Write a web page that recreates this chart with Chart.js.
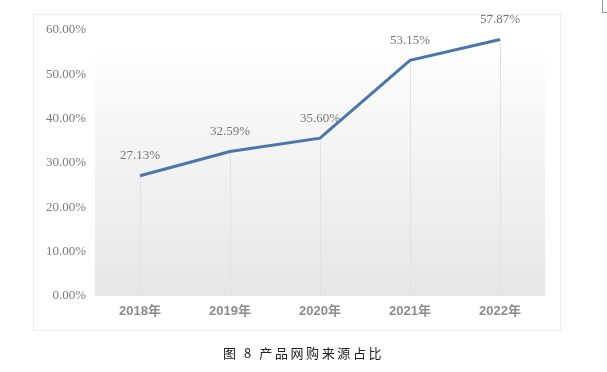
<!DOCTYPE html>
<html>
<head>
<meta charset="utf-8">
<script src="https://cdn.jsdelivr.net/npm/chart.js@4/dist/chart.umd.min.js"></script>
<style>
  body{ margin:0; background:#fff; }
  #wrap{ position:relative; width:607px; height:372px; }
  #frame{ position:absolute; left:33px; top:14px; width:526px; height:315px; border:1px solid #ececec; }
  #chart{ position:absolute; left:0; top:0; }
  #caption{ position:absolute; left:0; width:607px; top:343px; text-align:center;
    font-family:"Noto Sans CJK SC", sans-serif; font-size:13px; letter-spacing:2.6px; color:#222; }
  #corner{ position:absolute; left:602px; top:0; width:5px; height:12px; border-left:1px solid #999; border-bottom:1px solid #999; }
</style>
</head>
<body>
<div id="wrap">
  <div id="frame"></div>
  <canvas id="chart" width="607" height="372"></canvas>
  <div id="caption">图 8 产品网购来源占比</div>
  <div id="corner"></div>
</div>
<script>
  const years = ['2018年','2019年','2020年','2021年','2022年'];
  const shares = [27.13, 32.59, 35.60, 53.15, 57.87];
  const yTicks = [0, 10, 20, 30, 40, 50, 60];

  const pct = v => Number(v).toFixed(2) + '%';

  // plot area gradient + drop lines + value labels
  const decor = {
    id: 'decor',
    beforeDatasetsDraw(chart){
      const { ctx, chartArea: a, scales } = chart;
      const g = ctx.createLinearGradient(0, a.top, 0, a.bottom);
      g.addColorStop(0, '#ffffff');
      g.addColorStop(1, '#e6e6e6');
      ctx.save();
      ctx.fillStyle = g;
      ctx.fillRect(a.left, a.top + 18, a.right - a.left, a.bottom - a.top - 18);
      ctx.strokeStyle = '#e2e2e2';
      ctx.lineWidth = 1;
      chart.getDatasetMeta(0).data.forEach(p => {
        const x = Math.round(p.x) + 0.5;
        ctx.beginPath();
        ctx.moveTo(x, p.y);
        ctx.lineTo(x, scales.y.getPixelForValue(0));
        ctx.stroke();
      });
      ctx.restore();
    },
    afterDatasetsDraw(chart){
      const { ctx } = chart;
      ctx.save();
      ctx.font = '13px "Liberation Serif", serif';
      ctx.fillStyle = '#767676';
      ctx.textAlign = 'center';
      ctx.textBaseline = 'middle';
      chart.getDatasetMeta(0).data.forEach((p, i) => {
        ctx.fillText(pct(shares[i]), p.x, p.y - 20);
      });
      ctx.restore();
    }
  };

  new Chart(document.getElementById('chart'), {
    type: 'line',
    data: {
      labels: years,
      datasets: [{
        data: shares,
        borderColor: '#4a76a8',
        borderWidth: 3,
        pointRadius: 0,
        tension: 0,
        fill: false
      }]
    },
    options: {
      responsive: false,
      animation: false,
      layout: { padding: { top: 30, right: 62, bottom: 0, left: 0 } },
      plugins: { legend: { display: false }, tooltip: { enabled: false } },
      scales: {
        x: {
          offset: true,
          grid: { display: false, drawTicks: false },
          border: { display: false },
          ticks: { color: '#8c8c8c', padding: 8, font: { family: '"Liberation Sans", "Noto Sans CJK SC", sans-serif', size: 13, weight: 'bold' } },
          afterFit(s){ s.height = 76; }
        },
        y: {
          min: 0, max: 60,
          afterBuildTicks(s){ s.ticks = yTicks.map(v => ({ value: v })); },
          grid: { display: false, drawTicks: false },
          border: { display: false },
          ticks: { color: '#7a7a7a', padding: 9, callback: v => pct(v), font: { family: '"Liberation Serif", serif', size: 13 } },
          afterFit(s){ s.width = 95; }
        }
      }
    },
    plugins: [decor]
  });
</script>
</body>
</html>
